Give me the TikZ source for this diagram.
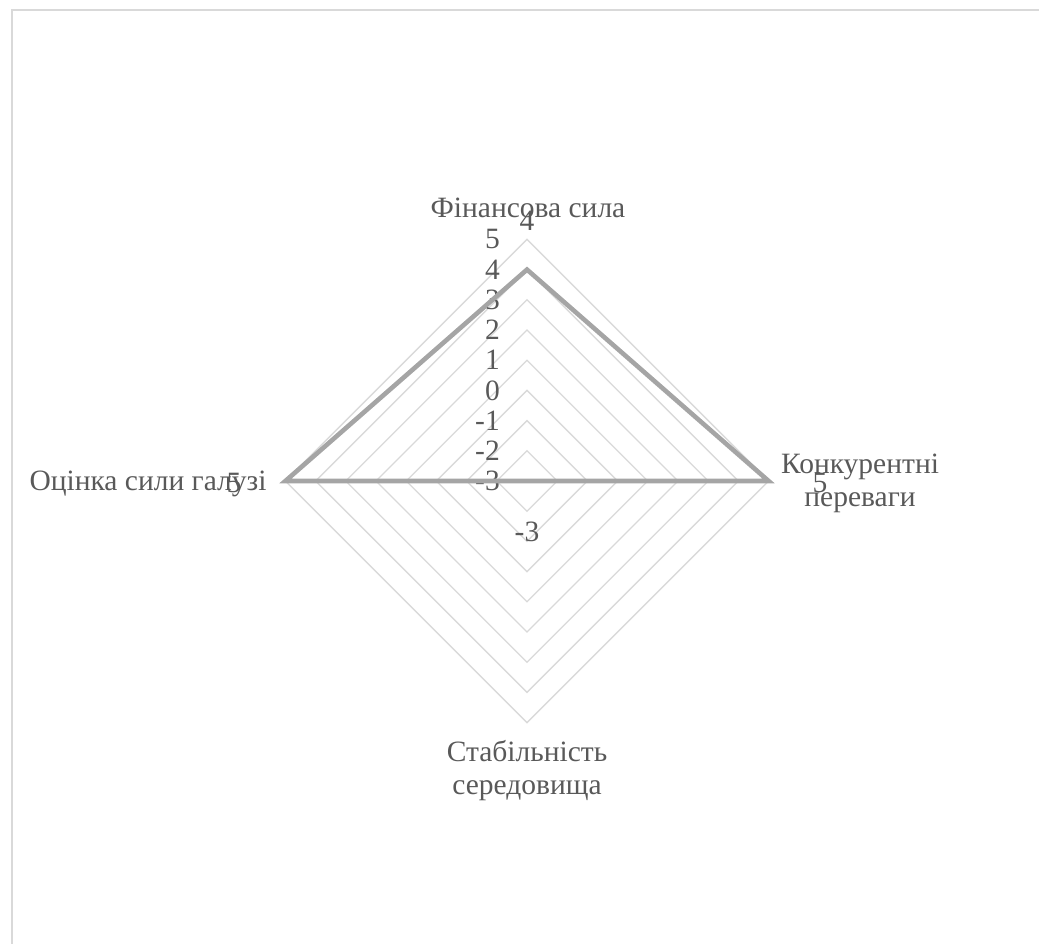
\documentclass[tikz,border=0pt]{standalone}
\usepackage{fontspec}
\setmainfont{Liberation Serif}
\usepackage{tikz}
\definecolor{gridgray}{HTML}{D9D9D9}
\definecolor{datagray}{HTML}{A5A5A5}
\definecolor{textgray}{HTML}{595959}
\definecolor{framegray}{HTML}{D9D9D9}

\begin{document}
\begin{tikzpicture}[x=1pt,y=-1pt,
    grid_line/.style={draw=gridgray,line width=1.3pt},
    data_line/.style={draw=datagray,line width=4.6pt,line join=miter},
    chart_text/.style={text=textgray,inner sep=0pt,font=\rmfamily\fontsize{29.5}{33}\selectfont}]

    \useasboundingbox (0,0) rectangle (1039,944);
    \draw[framegray,line width=2pt] (11.5,944) -- (11.5,10.5) -- (1039,10.5);

    % grid
    \foreach \r in {1,...,8}
        \draw[grid_line] (527,{481-30.2*\r}) -- ({527+30.2*\r},481) -- (527,{481+30.2*\r}) -- ({527-30.2*\r},481) -- cycle;

    % axis values
    \foreach \v in {-3,...,5}
        \node[chart_text,anchor=east] (tick\v) at (500,{481-30.2*(\v+3)}) {\v};

    % data
    \coordinate (fin) at (527,269.6);
    \coordinate (konk) at (768.6,481);
    \coordinate (stab) at (527,481);
    \coordinate (gal) at (285.4,481);
    \draw[data_line] (fin) -- (konk) -- (stab) -- (gal) -- cycle;

    \node[chart_text] (vfin)  at (527,221) {4};
    \node[chart_text] (vkonk) at (820,483) {5};
    \node[chart_text] (vstab) at (527,532) {-3};
    \node[chart_text] (vgal)  at (234,483) {5};

    % categories
    \node[chart_text,anchor=base] (cfin) at (528,218) {Фінансова сила};
    \node[chart_text,align=center] (ckonk) at (860,483) {Конкурентні\\переваги};
    \node[chart_text,align=center] (cstab) at (527,771) {Стабільність\\середовища};
    \node[chart_text,anchor=base] (cgal) at (148,490) {Оцінка сили галузі};

\end{tikzpicture}
\end{document}
